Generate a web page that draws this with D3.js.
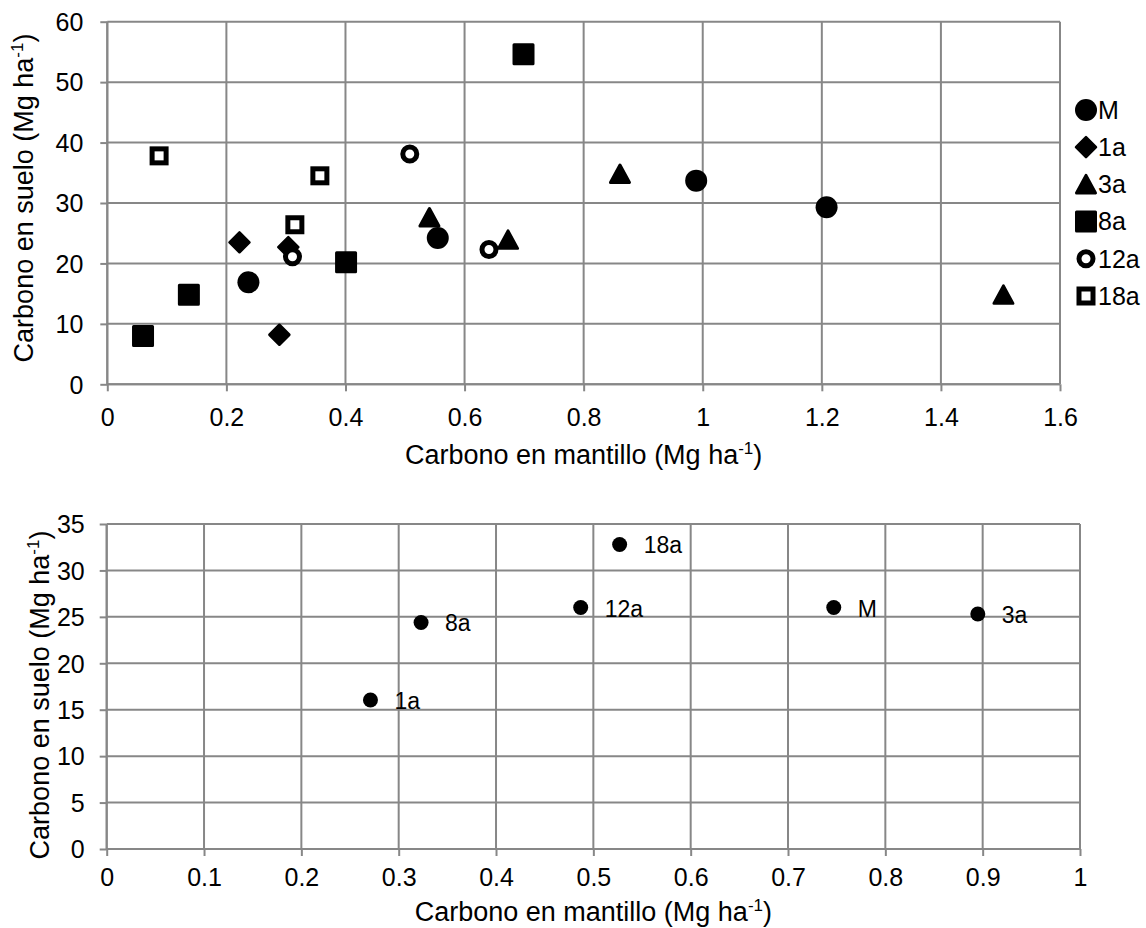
<!DOCTYPE html>
<html>
<head>
<meta charset="utf-8">
<script src="https://cdn.jsdelivr.net/npm/d3@7"></script>
<style>
  html, body { margin: 0; padding: 0; background: #fff; }
  svg { display: block; font-family: "Liberation Sans", Arial, sans-serif; }
</style>
</head>
<body>
<svg id="chart" width="1146" height="928"></svg>
<script>
// ---------- Data (top chart: individual plots) ----------
const seriesNames = ["M", "1a", "3a", "8a", "12a", "18a"];
const serieM   = [[0.237, 16.9], [0.555, 24.2], [0.989, 33.7], [1.208, 29.3]];
const serie1a  = [[0.222, 23.5], [0.304, 22.7], [0.289, 8.2]];
const serie3a  = [[0.541, 27.6], [0.673, 23.9], [0.861, 34.8], [1.505, 14.8]];
const serie8a  = [[0.060, 8.0], [0.137, 14.8], [0.401, 20.2], [0.699, 54.6]];
const serie12a = [[0.311, 21.1], [0.508, 38.1], [0.641, 22.3]];
const serie18a = [[0.087, 37.8], [0.315, 26.4], [0.357, 34.5]];
const topXTicks = [0, 0.2, 0.4, 0.6, 0.8, 1, 1.2, 1.4, 1.6];
const topYTicks = [0, 10, 20, 30, 40, 50, 60];

// ---------- Data (bottom chart: averages) ----------
const avgLabels = ["1a", "8a", "12a", "18a", "M", "3a"];
const avgX = [0.271, 0.323, 0.487, 0.527, 0.747, 0.895];
const avgY = [16.05, 24.4, 26.0, 32.8, 26.0, 25.3];
const botXTicks = [0, 0.1, 0.2, 0.3, 0.4, 0.5, 0.6, 0.7, 0.8, 0.9, 1];
const botYTicks = [0, 5, 10, 15, 20, 25, 30, 35];

const xTitle = "Carbono en mantillo (Mg ha";
const yTitle = "Carbono en suelo (Mg ha";

const GRID = "#878787";
const svg = d3.select("#chart");
const fmt = d => String(+(+d).toFixed(1));

function drawFrame(x, y, xt, yt, opts) {
  const g = svg.append("g");
  const [x0, x1] = x.range();
  const [y0, y1] = y.range();
  // gridlines
  g.selectAll(".vg").data(xt).join("line")
    .attr("x1", d => x(d)).attr("x2", d => x(d))
    .attr("y1", y1).attr("y2", y0)
    .attr("stroke", GRID).attr("stroke-width", 2);
  g.selectAll(".hg").data(yt).join("line")
    .attr("x1", x0).attr("x2", x1)
    .attr("y1", d => y(d)).attr("y2", d => y(d))
    .attr("stroke", GRID).attr("stroke-width", 2);
  // axes
  const ax = g.append("g").attr("transform", `translate(0,${y0})`)
    .call(d3.axisBottom(x).tickValues(xt).tickFormat(fmt).tickSize(7).tickPadding(opts.xPad));
  const ay = g.append("g").attr("transform", `translate(${x0},0)`)
    .call(d3.axisLeft(y).tickValues(yt).tickFormat(fmt).tickSize(7).tickPadding(opts.yPad));
  [ax, ay].forEach(a => {
    a.select(".domain").attr("stroke", GRID).attr("stroke-width", 2);
    a.selectAll(".tick line").attr("stroke", GRID).attr("stroke-width", 2);
    a.selectAll(".tick text").attr("fill", "#000")
      .style("font-size", "25px").style("font-family", '"Liberation Sans", Arial, sans-serif');
  });
  ax.select(".domain").attr("d", `M${x0},0H${x1}`);
  ay.select(".domain").attr("d", `M0,${y0}V${y1}`);
  ay.selectAll(".tick text").attr("dy", "0.35em");

  // titles
  const xt_ = g.append("text")
    .attr("x", (x0 + x1) / 2).attr("y", opts.xTitleY)
    .attr("text-anchor", "middle").style("font-size", "27px").attr("fill", "#000");
  xt_.append("tspan").text(xTitle);
  xt_.append("tspan").attr("dy", -10).style("font-size", "17px").text("-1");
  xt_.append("tspan").attr("dy", 10).text(")");

  const yt_ = g.append("text")
    .attr("transform", `translate(${opts.yTitleX},${opts.yTitleCY}) rotate(-90)`)
    .attr("text-anchor", "middle").style("font-size", "27px").attr("fill", "#000");
  yt_.append("tspan").text(yTitle);
  yt_.append("tspan").attr("dy", -10).style("font-size", "17px").text("-1");
  yt_.append("tspan").attr("dy", 10).text(")");
  return g;
}

// ---------- Marker drawing ----------
function marker(sel, name) {
  switch (name) {
    case "M":
      sel.append("circle").attr("r", 11).attr("fill", "#000"); break;
    case "1a":
      sel.append("path").attr("d", "M0,-10L10,0L0,10L-10,0Z")
        .attr("fill", "#000").attr("stroke", "#000").attr("stroke-width", 2.5).attr("stroke-linejoin", "round"); break;
    case "3a":
      sel.append("path").attr("d", "M0,-9L9.5,8.5L-9.5,8.5Z")
        .attr("fill", "#000").attr("stroke", "#000").attr("stroke-width", 3).attr("stroke-linejoin", "round"); break;
    case "8a":
      sel.append("rect").attr("x", -9.5).attr("y", -9.5).attr("width", 19).attr("height", 19)
        .attr("fill", "#000").attr("stroke", "#000").attr("stroke-width", 3).attr("stroke-linejoin", "round"); break;
    case "12a":
      sel.append("circle").attr("r", 7).attr("fill", "#fff").attr("stroke", "#000").attr("stroke-width", 5); break;
    case "18a":
      sel.append("rect").attr("x", -7).attr("y", -7).attr("width", 14).attr("height", 14)
        .attr("fill", "#fff").attr("stroke", "#000").attr("stroke-width", 5); break;
  }
}

// ---------- Top chart ----------
const xTop = d3.scaleLinear().domain([0, 1.6]).range([107.3, 1060]);
const yTop = d3.scaleLinear().domain([0, 60]).range([384.3, 21.7]);
drawFrame(xTop, yTop, topXTicks, topYTicks, { xPad: 16.5, yPad: 17, xTitleY: 464, yTitleX: 33, yTitleCY: 198 });

const topSeries = [serieM, serie1a, serie3a, serie8a, serie12a, serie18a];
const gTop = svg.append("g");
topSeries.forEach((pts, i) => {
  gTop.append("g").selectAll("g").data(pts).join("g")
    .attr("transform", d => `translate(${xTop(d[0])},${yTop(d[1])})`)
    .each(function () { marker(d3.select(this), seriesNames[i]); });
});

// legend
const legY = d3.scaleLinear().domain([0, 5]).range([110, 296]);
const leg = svg.append("g");
seriesNames.forEach((n, i) => {
  const row = leg.append("g").attr("transform", `translate(1086,${legY(i)})`);
  marker(row, n);
  row.append("text").attr("x", 12).attr("dy", "0.35em")
    .style("font-size", "25px").attr("fill", "#000").text(n);
});

// ---------- Bottom chart ----------
const xBot = d3.scaleLinear().domain([0, 1]).range([106.7, 1080]);
const yBot = d3.scaleLinear().domain([0, 35]).range([849, 524]);
drawFrame(xBot, yBot, botXTicks, botYTicks, { xPad: 12, yPad: 15, xTitleY: 921, yTitleX: 49, yTitleCY: 695 });

const gBot = svg.append("g");
const pts = avgLabels.map((l, i) => ({ l, x: avgX[i], y: avgY[i] }));
gBot.selectAll("circle").data(pts).join("circle")
  .attr("cx", d => xBot(d.x)).attr("cy", d => yBot(d.y)).attr("r", 7.5).attr("fill", "#000");
gBot.selectAll("text").data(pts).join("text")
  .attr("x", d => xBot(d.x) + 24).attr("y", d => yBot(d.y) + 1).attr("dy", "0.35em")
  .style("font-size", "23px").attr("fill", "#000").text(d => d.l);
</script>
</body>
</html>
